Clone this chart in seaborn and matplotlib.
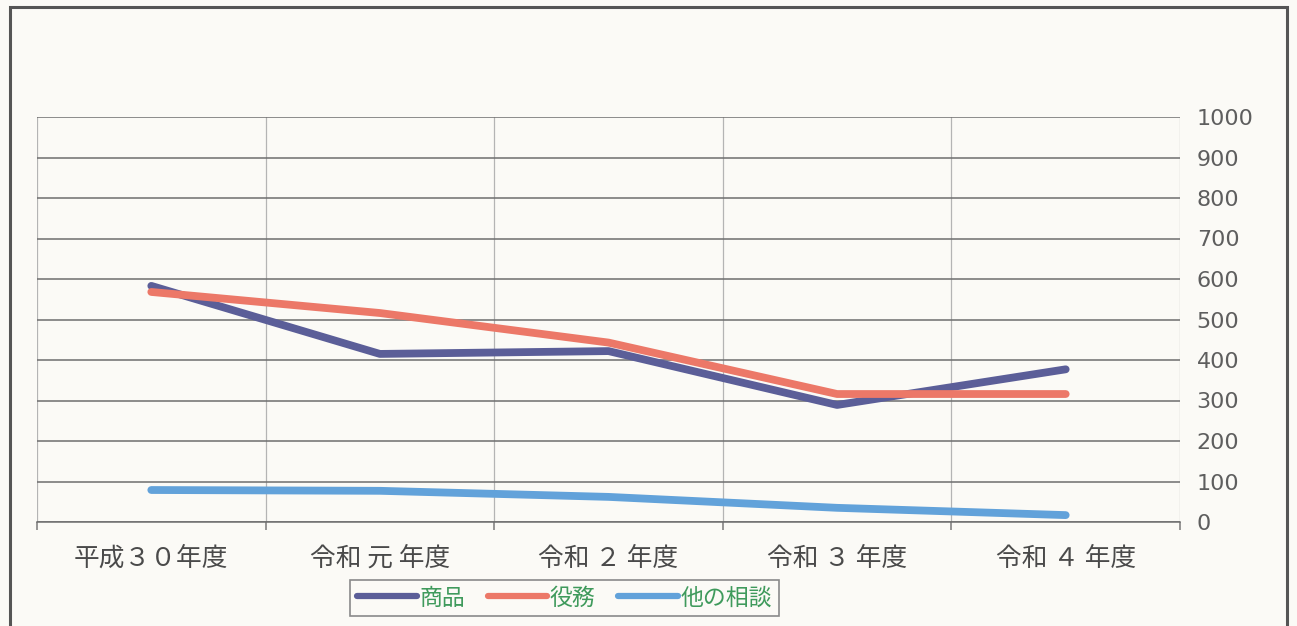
import matplotlib
matplotlib.use("Agg")
import matplotlib.pyplot as plt
from matplotlib.patches import Rectangle
from matplotlib.ticker import FixedLocator, MultipleLocator
import numpy as np
import pandas as pd
import seaborn as sns

# 年度別の相談件数
years = ["平成３０年度", "令和 元 年度", "令和 ２ 年度", "令和 ３ 年度", "令和 ４ 年度"]
goods = [583, 415, 422, 289, 377]      # 商品
services = [568, 516, 443, 316, 316]   # 役務
others = [79, 77, 62, 35, 17]          # 他の相談

series_names = ["商品", "役務", "他の相談"]
series_colors = ["#5b5e98", "#ec7868", "#62a2da"]

df = pd.DataFrame({
    "年度": years * 3,
    "件数": goods + services + others,
    "区分": [series_names[0]] * len(years) + [series_names[1]] * len(years) + [series_names[2]] * len(years),
})

sns.set_theme(style="white")
plt.rcParams["font.family"] = ["Noto Sans CJK JP", "DejaVu Sans"]

bg = "#fbfaf6"
fig = plt.figure(figsize=(12.97, 6.26), dpi=100, facecolor=bg)
ax = fig.add_axes([37 / 1297, 1 - 522 / 626, (1180 - 37) / 1297, (522 - 117) / 626])
ax.set_facecolor(bg)

sns.lineplot(data=df, x="年度", y="件数", hue="区分", palette=series_colors,
             hue_order=series_names, linewidth=5.6, sort=False, ax=ax,
             solid_capstyle="round", solid_joinstyle="round")

ax.set_xlim(-0.5, len(years) - 0.5)
ax.set_ylim(0, 1000)
ax.set_xlabel("")
ax.set_ylabel("")

# y axis on the right
ax.yaxis.tick_right()
ax.yaxis.set_major_locator(MultipleLocator(100))
ax.tick_params(axis="y", length=0, pad=12, labelsize=16, labelcolor="#5e5e5e")
for lbl in ax.get_yticklabels():
    lbl.set_fontfamily(["DejaVu Sans"])

# categories with boundary ticks/gridlines
ax.set_xticks(range(len(years)))
ax.set_xticklabels(years)
ax.xaxis.set_minor_locator(FixedLocator(np.arange(-0.5, len(years), 1.0)))
ax.tick_params(axis="x", which="major", bottom=False, length=0, pad=17,
               labelsize=18.5, labelcolor="#4a4a4a")
ax.tick_params(axis="x", which="minor", bottom=True, length=6, width=1.1,
               color="#7a7a7a", direction="out")

ax.grid(False)
ax.yaxis.grid(True, color="#6e6e6e", linewidth=1.1)
ax.xaxis.grid(True, which="minor", color="#b4b4b4", linewidth=0.9)
ax.set_axisbelow(True)
for s in ["top", "left", "right"]:
    ax.spines[s].set_visible(False)
ax.spines["bottom"].set_color("#6e6e6e")
ax.spines["bottom"].set_linewidth(1.1)

# legend below the plot
handles, labels = ax.get_legend_handles_labels()
leg = ax.legend(handles, labels, loc="center", bbox_to_anchor=(564.5 / 1297, 1 - 598 / 626),
                bbox_transform=fig.transFigure, ncol=3, frameon=True, fancybox=False,
                fontsize=16.5, handlelength=2.6, handletextpad=0.1, columnspacing=1.0,
                borderpad=0.3, facecolor=bg, edgecolor="#8a8a8a", framealpha=1)
leg.get_frame().set_linewidth(1.2)
for line in leg.get_lines():
    line.set_linewidth(4.5)
    line.set_solid_capstyle("round")
for t in leg.get_texts():
    t.set_color("#3f9a5c")

# outer chart frame
fig.patches.append(Rectangle((10 / 1297, -0.05), (1287 - 10) / 1297, 1.05 - 7 / 626,
                             transform=fig.transFigure, fill=False,
                             edgecolor="#555555", linewidth=2.2))

fig.savefig("out.png", dpi=100, facecolor=bg)
